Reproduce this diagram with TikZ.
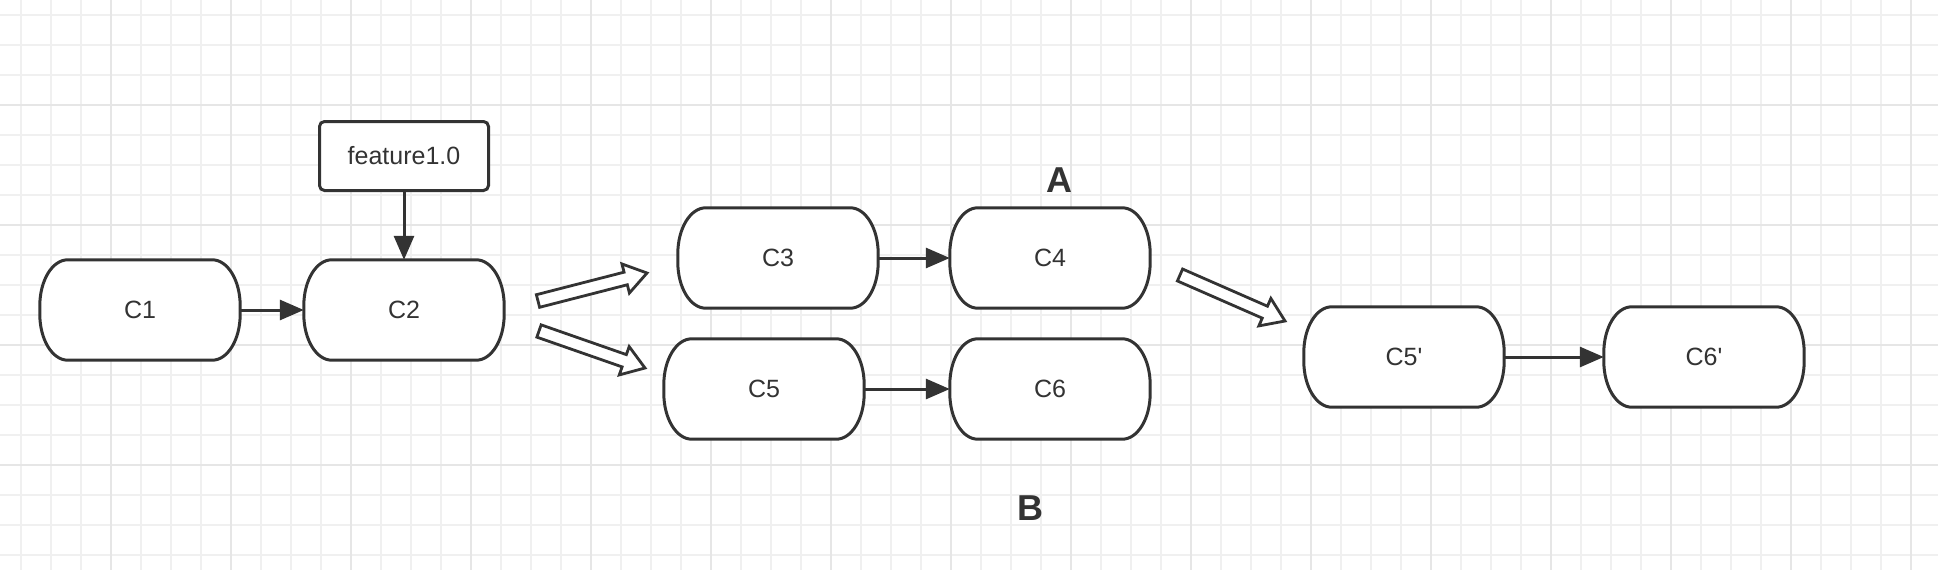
\documentclass[tikz,border=0pt]{standalone}
\usepackage{fontspec}
\setmainfont{Liberation Sans}
\usetikzlibrary{arrows.meta,calc}
\pgfdeclarelayer{bg}
\pgfdeclarelayer{shapes}
\pgfsetlayers{bg,shapes,main}
\definecolor{ink}{HTML}{333333}
\definecolor{gridminor}{HTML}{F0F0F0}
\definecolor{gridmajor}{HTML}{E6E6E6}
\tikzset{
  cbox/.style={minimum width=200pt, minimum height=100pt, inner sep=0pt, text=ink, font=\fontsize{25}{29}\selectfont},
  tagbox/.style={draw=ink, line width=3pt, rounded corners=5pt, fill=white, minimum width=169pt, minimum height=69pt, inner sep=0pt, text=ink, font=\fontsize{25}{29}\selectfont},
  outline/.style={draw=ink, line width=3pt, fill=white},
  conn/.style={draw=ink, line width=3pt, -{Triangle[length=24pt,width=20pt]}},
  hollow/.style={draw=ink, line width=2.8pt, fill=white, line join=miter},
  biglabel/.style={text=ink, font=\fontsize{36}{40}\selectfont\bfseries, inner sep=0pt},
  gminor/.style={draw=gridminor, line width=1.5pt},
  gmajor/.style={draw=gridmajor, line width=1.8pt},
}
\newcommand{\hollowarrow}[2]{%
  \draw[hollow]
    ($(#1)!6.5pt!90:(#2)$) --
    ($($(#2)!22pt!(#1)$)!6.5pt!-90:(#1)$) --
    ($($(#2)!22pt!(#1)$)!15pt!-90:(#1)$) --
    (#2) --
    ($($(#2)!22pt!(#1)$)!15pt!90:(#1)$) --
    ($($(#2)!22pt!(#1)$)!6.5pt!90:(#1)$) --
    ($(#1)!6.5pt!-90:(#2)$) -- cycle;}
\begin{document}
\begin{tikzpicture}[x=1pt,y=-1pt]
\useasboundingbox (0,0) rectangle (1938,570);
\begin{pgfonlayer}{bg}
  \fill[white] (0,0) rectangle (1938,570);
  \foreach \x in {21,51,...,1938} \draw[gminor] (\x,0) -- (\x,570);
  \foreach \y in {15,45,...,570} \draw[gminor] (0,\y) -- (1938,\y);
  \foreach \x in {111,231,...,1938} \draw[gmajor] (\x,0) -- (\x,570);
  \foreach \y in {105,225,...,570} \draw[gmajor] (0,\y) -- (1938,\y);
\end{pgfonlayer}

\node[cbox] (c1) at (140,310) {C1};
\node[cbox] (c2) at (404,310) {C2};
\node[tagbox] (feat) at (404,156) {feature1.0};
\node[cbox] (c3) at (778,258) {C3};
\node[cbox] (c4) at (1050,258) {C4};
\node[cbox] (c5) at (764,389) {C5};
\node[cbox] (c6) at (1050,389) {C6};
\node[cbox] (c5p) at (1404,357) {C5\textquotesingle};
\node[cbox] (c6p) at (1704,357) {C6\textquotesingle};
\node[biglabel] (la) at (1059,180) {A};
\node[biglabel] (lb) at (1030,508) {B};

\begin{pgfonlayer}{shapes}
\foreach \n in {c1,c2,c3,c4,c5,c6,c5p,c6p}{
  \draw[outline] ([xshift=28pt]\n.north west) -- ([xshift=-28pt]\n.north east)
    arc[start angle=90, end angle=0, x radius=28pt, y radius=46pt]
    -- ([yshift=46pt]\n.south east)
    arc[start angle=0, end angle=-90, x radius=28pt, y radius=46pt]
    -- ([xshift=28pt]\n.south west)
    arc[start angle=-90, end angle=-180, x radius=28pt, y radius=46pt]
    -- ([yshift=-46pt]\n.north west)
    arc[start angle=180, end angle=90, x radius=28pt, y radius=46pt] -- cycle;
}
\end{pgfonlayer}

\draw[conn] (c1.east) -- (c2.west);
\draw[conn] (feat.south) -- (c2.north);
\draw[conn] (c3.east) -- (c4.west);
\draw[conn] (c5.east) -- (c6.west);
\draw[conn] (c5p.east) -- (c6p.west);

\coordinate (h1t) at (538,301);
\coordinate (h1h) at (647,273);
\coordinate (h2t) at (539,331);
\coordinate (h2h) at (645,368);
\coordinate (h3t) at (1180,275);
\coordinate (h3h) at (1285,321);
\hollowarrow{h1t}{h1h}
\hollowarrow{h2t}{h2h}
\hollowarrow{h3t}{h3h}
\end{tikzpicture}
\end{document}
